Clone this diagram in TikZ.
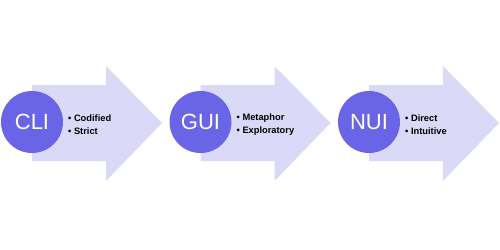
\documentclass[tikz,border=0pt]{standalone}
\usepackage{fontspec}
\setmainfont{Liberation Sans}
\definecolor{arrowfill}{HTML}{DADAF8}
\definecolor{circfill}{HTML}{6A64E6}
\begin{document}
\begin{tikzpicture}[x=1pt,y=-1pt,
  bigarrow/.style={fill=arrowfill,draw=none},
  badge/.style={circle,fill=circfill,draw=none,minimum size=62pt,inner sep=0pt,text=white,font=\fontsize{22}{22}\selectfont},
  items/.style={anchor=west,align=left,font=\bfseries\fontsize{9.3}{13}\selectfont,inner sep=0pt}]
\useasboundingbox (0,0) rectangle (500,249);
\foreach \cx/\lab/\a/\b/\nm in {32/CLI/Codified/Strict/c, 200.5/GUI/Metaphor/Exploratory/g, 369/NUI/Direct/Intuitive/n}{
  \fill[bigarrow] (\cx,85) -- (\cx+74,85) -- (\cx+74,66) -- (\cx+130,123) -- (\cx+74,181) -- (\cx+74,161) -- (\cx,161) -- cycle;
  \node[badge] (\nm) at (\cx,122) {\lab};
  \node[items] (\nm t) at (\cx+36,124.5) {\textbullet\ \a\\\textbullet\ \b};
}
\end{tikzpicture}
\end{document}
